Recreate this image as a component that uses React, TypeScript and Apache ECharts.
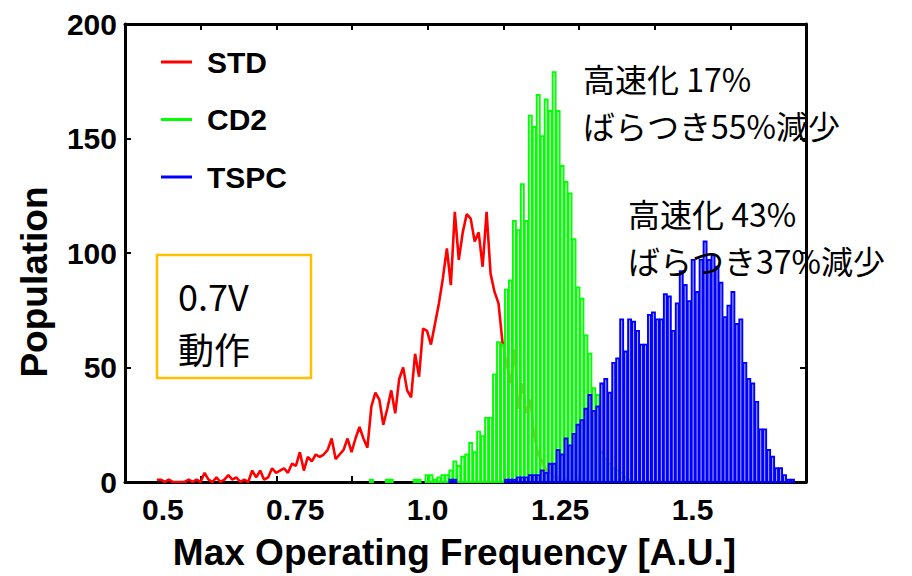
import React, { useEffect, useRef } from "react";
import * as echarts from "echarts";

// ---- data ----
const BIN = 0.0075;
const RED_START = 0.485;
const GREEN_START = 0.89;
const BLUE_START = 1.04;

const redValues = [
  1, 1, 0, 1, 0, 0, 0, 0, 1, 0, 1, 0, 4, 1, 0, 2, 0, 1, 3, 1, 2, 0, 1, 0, 5, 2, 5, 1, 2, 6,
  4, 5, 6, 4, 8, 7, 13, 5, 11, 9, 12, 11, 12, 14, 19, 10, 12, 14, 19, 13, 19, 24, 19, 15, 33,
  39, 36, 25, 32, 40, 30, 45, 50, 40, 37, 56, 46, 67, 66, 60, 69, 78, 89, 102, 86, 118, 97,
  109, 117, 115, 105, 109, 94, 118, 91, 83, 78, 61, 52, 43, 58, 32, 43, 30, 36, 20, 12, 9, 5,
  4, 2, 2, 0, 1, 0,
];

const greenValues = [
  1, 0, 0, 0, 1, 1, 0, 0, 0, 0, 0, 1, 1, 0, 3, 3, 1, 2, 3, 3, 5, 9, 7, 11, 12, 17, 13, 22, 20,
  28, 28, 47, 61, 60, 84, 88, 114, 110, 130, 114, 160, 155, 169, 151, 167, 162, 179, 162, 138,
  131, 126, 106, 85, 80, 64, 56, 41, 38, 13, 10, 8, 6, 5, 4, 2, 1,
];

const blueValues = [
  1, 1, 0, 0, 0, 0, 0, 0, 0, 0, 0, 0, 0, 0, 1, 1, 1, 2, 2, 2, 3, 3, 3, 5, 4, 8, 8, 14, 12, 19,
  16, 21, 25, 27, 32, 38, 31, 33, 43, 45, 39, 52, 54, 71, 57, 71, 70, 66, 60, 60, 73, 74, 71,
  71, 82, 81, 66, 78, 92, 86, 79, 97, 83, 97, 105, 97, 99, 94, 87, 72, 77, 83, 69, 71, 52, 45,
  43, 35, 23, 23, 14, 11, 6, 6, 3, 1, 1, 0,
];

const seriesNames = ["STD", "CD2", "TSPC"];
const seriesColors = ["#ff0000", "#00ff00", "#0000ff"];

const xTickValues = [0.5, 0.75, 1.0, 1.25, 1.5];
const xTickLabels = ["0.5", "0.75", "1.0", "1.25", "1.5"];

const X_MIN = 3 / 7;
const X_MAX = 12 / 7;
const X_INTERVAL = 1 / 7;

const note1 = ["高速化 17%", "ばらつき55%減少"];
const note2 = ["高速化 43%", "ばらつき37%減少"];
const boxText = ["0.7V", "動作"];

const LATIN = '"Liberation Sans", Arial, sans-serif';
const CJK = '"Noto Sans CJK JP", sans-serif';

function histRender(fill: string, stroke: string) {
  return (params: any, api: any) => {
    const x0 = api.value(0);
    const v = api.value(1);
    if (!v) return null;
    const p0 = api.coord([x0, v]);
    const p1 = api.coord([x0 + BIN, 0]);
    return {
      type: "rect",
      shape: {
        x: p0[0] + 0.5,
        y: p0[1],
        width: p1[0] - p0[0] - 1,
        height: p1[1] - p0[1],
      },
      style: { fill, stroke, lineWidth: 1.9 },
    };
  };
}

export default function App() {
  const ref = useRef<HTMLDivElement>(null);

  useEffect(() => {
    document.body.style.margin = "0";
    if (!ref.current) return;
    const chart = echarts.init(ref.current, undefined, { renderer: "svg" });

    const redData = redValues.map((v, i) => [RED_START + (i + 0.5) * BIN, v]);
    const greenData = greenValues.map((v, i) => [GREEN_START + i * BIN, v]);
    const blueData = blueValues.map((v, i) => [BLUE_START + i * BIN, v]);

    const legendGraphics: any[] = [];
    seriesNames.forEach((name, i) => {
      const cy = 62 + i * 57.5;
      legendGraphics.push({
        type: "line",
        shape: { x1: 161, y1: cy, x2: 192, y2: cy },
        style: { stroke: seriesColors[i], lineWidth: 3 },
        z: 10,
      });
      legendGraphics.push({
        type: "text",
        style: {
          text: name,
          x: 207,
          y: cy,
          fill: "#000",
          font: `bold 30px ${LATIN}`,
          align: "left",
          verticalAlign: "middle",
        },
        z: 10,
      });
    });

    const noteText = (lines: string[], x: number, yMid: number, size: number, gap: number) =>
      lines.map((t, i) => ({
        type: "text",
        style: {
          text: t,
          x,
          y: yMid + (i - (lines.length - 1) / 2) * gap,
          fill: "#000",
          font: `${size}px ${CJK}`,
          align: "left",
          verticalAlign: "middle",
        },
        z: 10,
      }));

    const option: any = {
      animation: false,
      backgroundColor: "#fff",
      grid: { left: 125, right: 106, top: 24, bottom: 89 },
      xAxis: [
        {
          type: "value",
          position: "bottom",
          min: X_MIN,
          max: X_MAX,
          interval: X_INTERVAL,
          axisLine: { show: true, onZero: false, lineStyle: { color: "#000", width: 3 } },
          axisTick: { show: true, inside: true, length: 6, lineStyle: { color: "#000", width: 2 } },
          axisLabel: {
            customValues: xTickValues,
            formatter: (v: number) => {
              const k = xTickValues.findIndex((t) => Math.abs(t - v) < 1e-6);
              return k >= 0 ? xTickLabels[k] : "";
            },
            color: "#000",
            fontSize: 30,
            fontWeight: "bold",
            fontFamily: LATIN,
            margin: 12,
          },
          splitLine: { show: false },
          name: "Max Operating Frequency [A.U.]",
          nameLocation: "middle",
          nameGap: 52,
          nameTextStyle: {
            color: "#000",
            fontSize: 37,
            fontWeight: "bold",
            fontFamily: LATIN,
            padding: [0, 22, 0, 0],
          },
        },
        {
          type: "value",
          position: "top",
          min: X_MIN,
          max: X_MAX,
          interval: X_INTERVAL,
          axisLine: { show: true, onZero: false, lineStyle: { color: "#000", width: 3 } },
          axisTick: { show: true, inside: true, length: 6, lineStyle: { color: "#000", width: 2 } },
          axisLabel: { show: false },
          splitLine: { show: false },
        },
      ],
      yAxis: [
        {
          type: "value",
          position: "left",
          min: 0,
          max: 200,
          interval: 50,
          axisLine: { show: true, lineStyle: { color: "#000", width: 3 } },
          axisTick: { show: true, inside: true, length: 6, lineStyle: { color: "#000", width: 2 } },
          axisLabel: {
            color: "#000",
            fontSize: 30,
            fontWeight: "bold",
            fontFamily: LATIN,
            margin: 8,
          },
          splitLine: { show: false },
        },
        {
          type: "value",
          position: "right",
          min: 0,
          max: 200,
          interval: 50,
          axisLine: { show: true, lineStyle: { color: "#000", width: 3 } },
          axisTick: { show: true, inside: true, length: 6, lineStyle: { color: "#000", width: 2 } },
          axisLabel: { show: false },
          splitLine: { show: false },
        },
      ],
      series: [
        {
          name: seriesNames[0],
          type: "line",
          data: redData,
          showSymbol: false,
          lineStyle: { color: seriesColors[0], width: 2.6 },
          itemStyle: { color: seriesColors[0] },
          z: 1,
        },
        {
          name: seriesNames[1],
          type: "custom",
          data: greenData,
          encode: { x: 0, y: 1 },
          renderItem: histRender("rgba(255,255,255,0.5)", seriesColors[1]),
          itemStyle: { color: seriesColors[1] },
          z: 2,
        },
        {
          name: seriesNames[2],
          type: "custom",
          data: blueData,
          encode: { x: 0, y: 1 },
          renderItem: histRender("rgba(110,110,255,0.6)", seriesColors[2]),
          itemStyle: { color: seriesColors[2] },
          z: 3,
        },
      ],
      graphic: [
        ...legendGraphics,
        {
          type: "text",
          x: 34,
          y: 282,
          rotation: Math.PI / 2,
          style: {
            text: "Population",
            x: 0,
            y: 0,
            fill: "#000",
            font: `bold 37px ${LATIN}`,
            align: "center",
            verticalAlign: "middle",
          },
          z: 10,
        },
        ...noteText(note1, 583, 101, 32, 47),
        ...noteText(note2, 628, 236, 32, 47),
        {
          type: "rect",
          shape: { x: 157, y: 255, width: 154, height: 123 },
          style: { fill: "#fff", stroke: "#ffc000", lineWidth: 2.5 },
          z: 10,
        },
        ...noteText(boxText, 178, 321, 36, 53),
      ],
    };

    chart.setOption(option);
    return () => chart.dispose();
  }, []);

  return <div ref={ref} style={{ width: 912, height: 576 }} />;
}
